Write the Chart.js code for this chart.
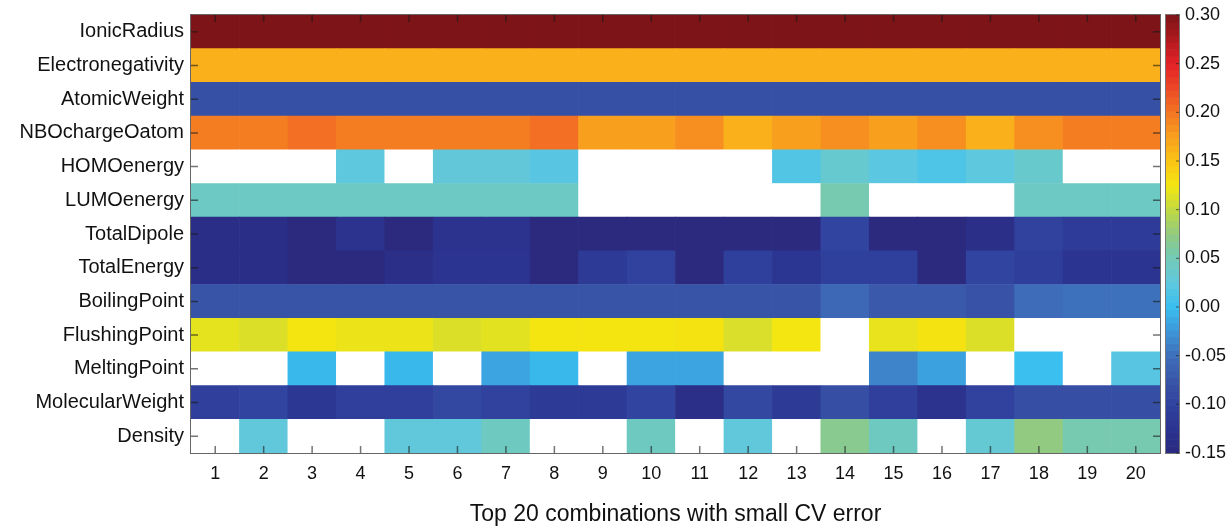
<!DOCTYPE html>
<html>
<head>
<meta charset="utf-8">
<script src="https://cdn.jsdelivr.net/npm/chart.js@4/dist/chart.umd.min.js"></script>
<style>
  html, body { margin: 0; padding: 0; background: #ffffff; }
  #c { display: block; }
</style>
</head>
<body>
<canvas id="c" width="1229" height="527"></canvas>
<script>
// Feature rows (top to bottom) and the 20 descriptor combinations
const features = ['IonicRadius', 'Electronegativity', 'AtomicWeight', 'NBOchargeOatom',
  'HOMOenergy', 'LUMOenergy', 'TotalDipole', 'TotalEnergy', 'BoilingPoint',
  'FlushingPoint', 'MeltingPoint', 'MolecularWeight', 'Density'];
const combos = ['1','2','3','4','5','6','7','8','9','10','11','12','13','14','15','16','17','18','19','20'];
const colorbarTicks = [-0.15, -0.10, -0.05, 0.00, 0.05, 0.10, 0.15, 0.20, 0.25, 0.30];

// Coefficient per feature and combination (null = feature not used)
const ionicRadius       = [0.30,0.30,0.30,0.30,0.30,0.30,0.30,0.30,0.30,0.30,0.30,0.30,0.30,0.30,0.30,0.30,0.30,0.30,0.30,0.30];
const electronegativity = [0.164,0.164,0.164,0.164,0.164,0.164,0.164,0.164,0.164,0.164,0.164,0.164,0.164,0.164,0.164,0.164,0.164,0.164,0.164,0.164];
const atomicWeight      = [-0.082,-0.082,-0.082,-0.082,-0.082,-0.082,-0.082,-0.082,-0.082,-0.082,-0.082,-0.082,-0.082,-0.082,-0.082,-0.082,-0.082,-0.082,-0.082,-0.082];
const nboChargeOatom    = [0.196,0.196,0.204,0.196,0.196,0.196,0.196,0.204,0.175,0.175,0.185,0.164,0.175,0.185,0.175,0.185,0.164,0.185,0.196,0.196];
const homoEnergy        = [null,null,null,0.024,null,0.028,0.028,0.020,null,null,null,null,0.016,0.034,0.022,0.014,0.024,0.036,null,null];
const lumoEnergy        = [0.042,0.042,0.042,0.042,0.042,0.042,0.042,0.042,null,null,null,null,null,0.054,null,null,null,0.042,0.042,0.042];
const totalDipole       = [-0.140,-0.140,-0.150,-0.128,-0.150,-0.128,-0.128,-0.150,-0.150,-0.150,-0.150,-0.150,-0.150,-0.097,-0.150,-0.150,-0.137,-0.100,-0.112,-0.112];
const totalEnergy       = [-0.140,-0.140,-0.150,-0.150,-0.137,-0.125,-0.125,-0.150,-0.115,-0.100,-0.150,-0.103,-0.123,-0.103,-0.103,-0.150,-0.097,-0.108,-0.125,-0.125];
const boilingPoint      = [-0.078,-0.078,-0.078,-0.078,-0.078,-0.078,-0.078,-0.078,-0.078,-0.078,-0.078,-0.078,-0.078,-0.056,-0.072,-0.072,-0.080,-0.052,-0.048,-0.048];
const flushingPoint     = [0.118,0.113,0.126,0.121,0.121,0.113,0.117,0.126,0.126,0.126,0.127,0.112,0.125,null,0.119,0.127,0.113,null,null,null];
const meltingPoint      = [null,null,-0.004,null,-0.004,null,-0.016,-0.004,null,-0.016,-0.016,null,null,null,-0.036,-0.018,null,0.002,null,0.020];
const molecularWeight   = [-0.105,-0.098,-0.120,-0.105,-0.105,-0.092,-0.100,-0.113,-0.113,-0.097,-0.138,-0.092,-0.113,-0.084,-0.105,-0.128,-0.100,-0.084,-0.084,-0.084];
const density           = [null,0.027,null,null,0.027,0.027,0.045,null,null,0.045,null,0.027,null,0.068,0.044,null,0.032,0.075,0.054,0.054];

const rows = [ionicRadius, electronegativity, atomicWeight, nboChargeOatom, homoEnergy,
  lumoEnergy, totalDipole, totalEnergy, boilingPoint, flushingPoint, meltingPoint,
  molecularWeight, density];

// Colour map: dark blue -> cyan -> teal -> yellow -> orange -> dark red
const cmapMin = -0.15, cmapMax = 0.30;
const cmapStops = [
  [-0.150, [43, 42, 126]], [-0.125, [43, 52, 145]], [-0.100, [48, 66, 158]],
  [-0.075, [57, 86, 168]], [-0.050, [62, 110, 186]], [-0.025, [62, 150, 216]],
  [ 0.000, [56, 190, 240]], [ 0.025, [96, 200, 222]], [ 0.050, [114, 202, 184]],
  [ 0.075, [145, 202, 128]], [ 0.100, [192, 216, 66]], [ 0.125, [244, 230, 16]],
  [ 0.150, [250, 196, 22]], [ 0.175, [248, 160, 30]], [ 0.200, [243, 118, 34]],
  [ 0.225, [236, 72, 38]], [ 0.250, [228, 34, 40]], [ 0.275, [176, 26, 30]],
  [ 0.300, [125, 20, 24]]
];
function colorFor(v) {
  const x = Math.min(cmapMax, Math.max(cmapMin, v));
  for (let i = 1; i < cmapStops.length; i++) {
    const [v1, c1] = cmapStops[i];
    if (x <= v1 + 1e-9) {
      const [v0, c0] = cmapStops[i - 1];
      const t = (x - v0) / (v1 - v0);
      const c = c0.map((a, k) => Math.round(a + (c1[k] - a) * t));
      return `rgb(${c[0]},${c[1]},${c[2]})`;
    }
  }
  const c = cmapStops[cmapStops.length - 1][1];
  return `rgb(${c[0]},${c[1]},${c[2]})`;
}

const FONT = "'Liberation Sans', Arial, Helvetica, sans-serif";
Chart.defaults.font.family = FONT;
Chart.defaults.color = '#111111';

// One stacked band per feature; the bottom band is the last feature
const datasets = features.map((name, r) => ({
  label: name,
  data: combos.map(() => 1),
  backgroundColor: rows[r].map(v => v === null ? '#ffffff' : colorFor(v)),
  borderWidth: 0,
  barPercentage: 1,
  categoryPercentage: 1,
  stack: 'heat'
})).reverse();

// Inner tick marks, plot frame and the colour bar
const heatFrame = {
  id: 'heatFrame',
  afterDatasetsDraw(chart) {
    const { ctx, chartArea: a, scales } = chart;
    ctx.save();
    ctx.strokeStyle = 'rgba(25,25,25,0.6)';
    ctx.lineWidth = 1.5;
    ctx.beginPath();
    scales.x.ticks.forEach((t, i) => {
      const px = scales.x.getPixelForTick(i);
      ctx.moveTo(px, a.top); ctx.lineTo(px, a.top + 7);
      ctx.moveTo(px, a.bottom); ctx.lineTo(px, a.bottom - 7);
    });
    scales.y.ticks.forEach((t, i) => {
      const py = scales.y.getPixelForTick(i);
      ctx.moveTo(a.left, py); ctx.lineTo(a.left + 7, py);
      ctx.moveTo(a.right, py); ctx.lineTo(a.right - 7, py);
    });
    ctx.stroke();

    ctx.strokeStyle = '#666666';
    ctx.lineWidth = 1;
    ctx.strokeRect(a.left - 0.5, a.top - 0.5, a.right - a.left + 1, a.bottom - a.top + 1);

    const cb = scales.y2;
    const x0 = a.right + 6, w = 13;
    const n = 64;
    for (let k = 0; k < n; k++) {
      const v0 = cmapMin + (cmapMax - cmapMin) * k / n;
      const v1 = cmapMin + (cmapMax - cmapMin) * (k + 1) / n;
      const p0 = cb.getPixelForValue(v0), p1 = cb.getPixelForValue(v1);
      ctx.fillStyle = colorFor((v0 + v1) / 2);
      ctx.fillRect(x0, p1, w, p0 - p1 + 0.6);
    }
    ctx.strokeStyle = '#777777';
    ctx.strokeRect(x0 - 0.5, cb.top - 0.5, w + 1, cb.bottom - cb.top + 1);
    ctx.strokeStyle = 'rgba(25,25,25,0.6)';
    ctx.beginPath();
    colorbarTicks.forEach(v => {
      const py = cb.getPixelForValue(v);
      ctx.moveTo(x0 + w, py); ctx.lineTo(x0 + w - 3, py);
    });
    ctx.stroke();
    ctx.restore();
  }
};

new Chart(document.getElementById('c'), {
  type: 'bar',
  data: { labels: combos, datasets },
  options: {
    responsive: false,
    animation: false,
    devicePixelRatio: 1,
    layout: { padding: { top: 15, right: 0, bottom: 0, left: 0 } },
    plugins: { legend: { display: false }, tooltip: { enabled: false } },
    scales: {
      x: {
        type: 'category',
        stacked: true,
        grid: { display: false, drawTicks: false },
        border: { display: false },
        ticks: { font: { size: 18 }, color: '#111111', padding: 10, maxRotation: 0, autoSkip: false },
        title: {
          display: true,
          text: 'Top 20 combinations with small CV error',
          font: { size: 23, lineHeight: 1.05 },
          color: '#111111',
          padding: { top: 0, bottom: 0 }
        },
        afterFit(s) { s.height = 74; s.paddingLeft = 0; s.paddingRight = 0; }
      },
      y: {
        type: 'linear',
        stacked: true,
        min: 0,
        max: features.length,
        grid: { display: false, drawTicks: false },
        border: { display: false },
        afterBuildTicks(s) { s.ticks = features.map((_, i) => ({ value: i + 0.5 })); },
        ticks: {
          font: { size: 20 },
          color: '#111111',
          padding: 7,
          autoSkip: false,
          callback: (v) => features[features.length - 1 - Math.floor(v)]
        },
        afterFit(s) { s.width = 191; s.paddingTop = 0; s.paddingBottom = 0; }
      },
      y2: {
        type: 'linear',
        position: 'right',
        min: cmapMin,
        max: cmapMax,
        grid: { display: false, drawTicks: false },
        border: { display: false },
        afterBuildTicks(s) { s.ticks = colorbarTicks.map(v => ({ value: v })); },
        ticks: {
          font: { size: 18 },
          color: '#111111',
          padding: 25,
          autoSkip: false,
          callback: (v) => v.toFixed(2)
        },
        afterFit(s) { s.width = 69; s.paddingTop = 0; s.paddingBottom = 0; }
      }
    }
  },
  plugins: [heatFrame]
});
</script>
</body>
</html>
